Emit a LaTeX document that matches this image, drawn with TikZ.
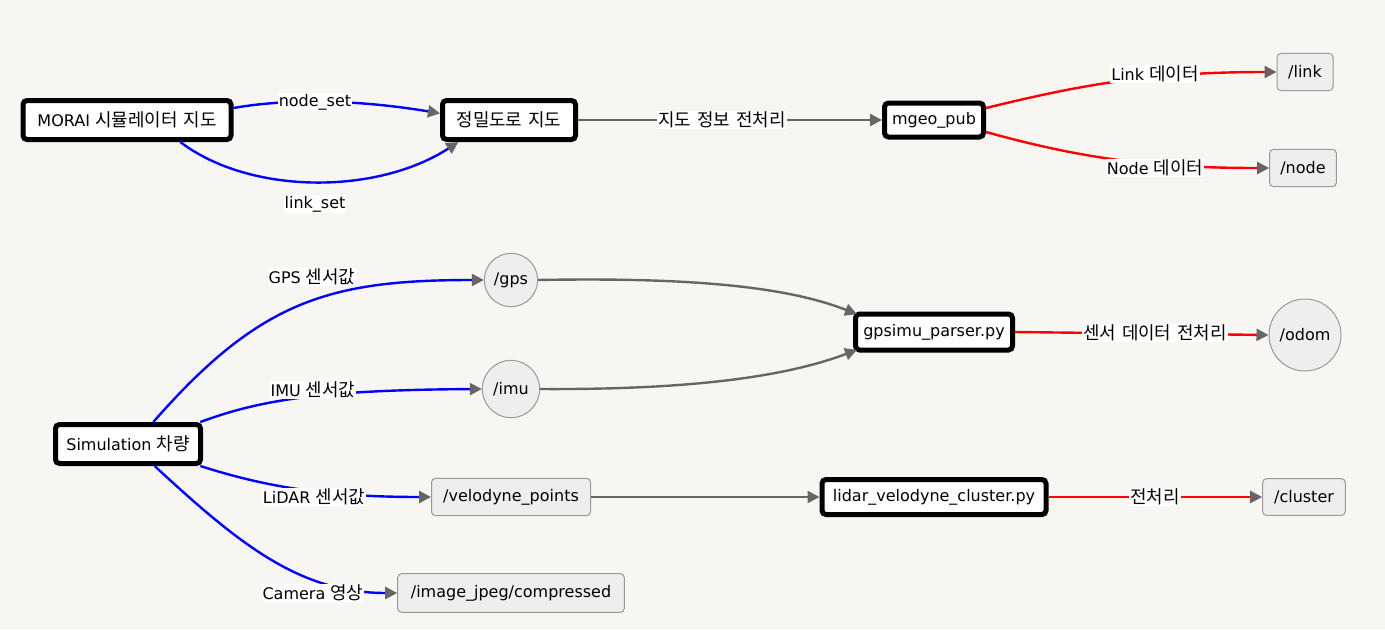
\documentclass[tikz,border=0pt]{standalone}
\usepackage{fontspec}
\setmainfont{DejaVu Sans}
\newfontfamily\kr[Scale=1.12,WordSpace=1.5]{Noto Sans CJK KR}
\usetikzlibrary{arrows.meta,calc}
\definecolor{bg}{HTML}{F7F6F3}
\definecolor{arr}{HTML}{666666}
\definecolor{tfill}{HTML}{EEEEEE}
\definecolor{tdraw}{HTML}{999999}
\begin{document}
\begin{tikzpicture}[x=0.75pt, y=-0.75pt, font=\fontsize{12pt}{14pt}\selectfont,
  mainbox/.style={draw=black, line width=3.75pt, fill=white, rounded corners=3pt, inner sep=0pt},
  topic/.style={draw=tdraw, line width=0.75pt, fill=tfill, rounded corners=3pt, inner sep=0pt},
  topicc/.style={circle, draw=tdraw, line width=0.75pt, fill=tfill, inner sep=0pt},
  edge/.style={line width=1.8pt, -{Triangle[length=9pt,width=9pt,color=arr]}},
  be/.style={edge, draw=blue},
  re/.style={edge, draw=red},
  ge/.style={edge, draw=arr},
  lbl/.style={fill=white, inner sep=0.8pt}]
\fill[bg] (0,0) rectangle (1385,629);
% nodes
\node[mainbox, minimum width=156pt, minimum height=29.25pt] (morai) at (127,120) {MORAI {\kr 시뮬레이터 지도}};
\node[mainbox, minimum width=99.75pt, minimum height=29.25pt] (jm) at (509,120) {{\kr 정밀도로 지도}};
\node[mainbox, minimum width=74.25pt, minimum height=25.5pt] (mgeo) at (934,120) {mgeo\_pub};
\node[topic, minimum width=42pt, minimum height=28pt] (link) at (1305,72) {/link};
\node[topic, minimum width=50pt, minimum height=28pt] (nodet) at (1303,168) {/node};
\node[mainbox, minimum width=108.75pt, minimum height=29.25pt] (sim) at (128,444) {Simulation {\kr 차량}};
\node[topicc, minimum size=40pt] (gps) at (511,280) {/gps};
\node[topicc, minimum size=43pt] (imu) at (511,389) {/imu};
\node[mainbox, minimum width=117.75pt, minimum height=27pt] (gpsimu) at (934,332) {gpsimu\_parser.py};
\node[topicc, minimum size=54pt] (odom) at (1305,335) {/odom};
\node[topic, minimum width=119.25pt, minimum height=28pt] (vel) at (511,497) {/velodyne\_points};
\node[mainbox, minimum width=168pt, minimum height=26.25pt] (lidar) at (934,497) {lidar\_velodyne\_cluster.py};
\node[topic, minimum width=62pt, minimum height=27.5pt] (cluster) at (1304,497) {/cluster};
\node[topic, minimum width=170pt, minimum height=29pt] (img) at (511,593) {/image\_jpeg/compressed};
% edges
\draw[be] ([yshift=9pt]morai.east) .. controls (290,98) and (360,100) .. ([yshift=5pt]jm.west);
\draw[be] ([xshift=40pt]morai.south) .. controls (250,195) and (377,195) .. ([xshift=-38pt]jm.south);
\draw[ge] (jm.east) -- (mgeo.west);
\draw[re] ([yshift=9pt]mgeo.east) .. controls (1080,85) and (1150,72) .. (link.west);
\draw[re] ([yshift=-9pt]mgeo.east) .. controls (1080,158) and (1150,168) .. (nodet.west);
\draw[be] ([xshift=19pt]sim.north) .. controls (260,300) and (330,280) .. (gps.west);
\draw[be] ([xshift=-2pt]sim.north east) .. controls (260,400) and (320,390) .. (imu.west);
\draw[be] ([xshift=-2pt]sim.south east) .. controls (260,485) and (320,497) .. (vel.west);
\draw[be] ([xshift=20pt]sim.south) .. controls (240,545) and (300,593) .. (img.west);
\draw[ge] (gps.east) .. controls (700,277) and (790,288) .. ([xshift=3pt,yshift=-2pt]gpsimu.north west);
\draw[ge] (imu.east) .. controls (700,390) and (790,375) .. ([xshift=3pt,yshift=2pt]gpsimu.south west);
\draw[re] (gpsimu.east) -- (odom.west);
\draw[ge] (vel.east) -- (lidar.west);
\draw[re] (lidar.east) -- (cluster.west);
% labels
\node[lbl] (l1) at (315,102) {node\_set};
\node[lbl] (l2) at (315,204) {link\_set};
\node[lbl] (l3) at (722,120) {{\kr 지도 정보 전처리}};
\node[lbl] (l4) at (1155,74) {Link {\kr 데이터}};
\node[lbl] (l5) at (1155,168) {Node {\kr 데이터}};
\node[lbl] (l6) at (312,277) {GPS {\kr 센서값}};
\node[lbl] (l7) at (313,390) {IMU {\kr 센서값}};
\node[lbl] (l8) at (314,497) {LiDAR {\kr 센서값}};
\node[lbl] (l9) at (313,593) {Camera {\kr 영상}};
\node[lbl] (l10) at (1155,333) {{\kr 센서 데이터 전처리}};
\node[lbl] (l11) at (1155,497) {{\kr 전처리}};
\end{tikzpicture}
\end{document}
